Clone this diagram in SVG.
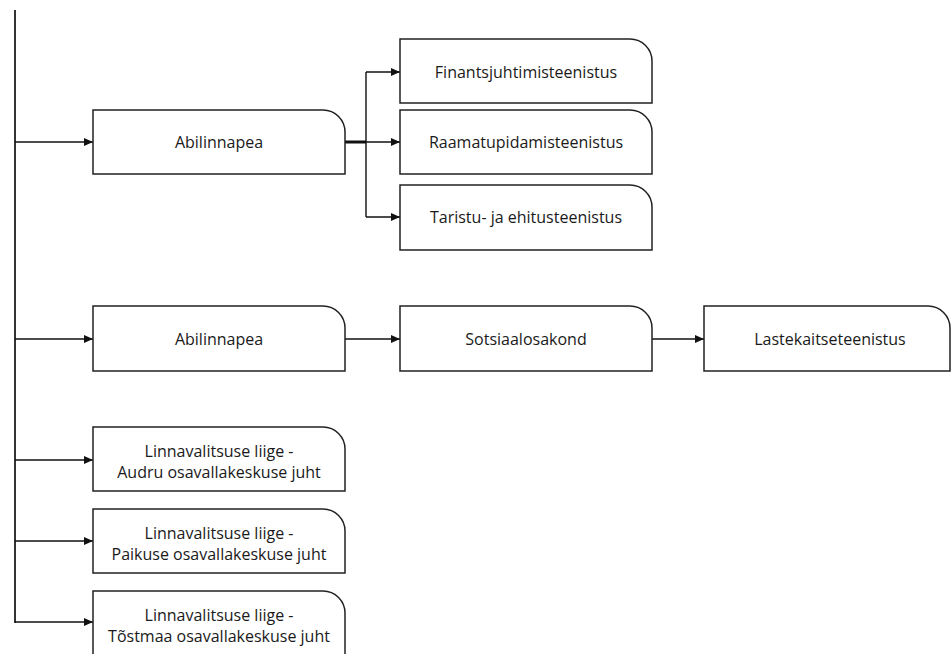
<svg xmlns="http://www.w3.org/2000/svg" width="951" height="654" viewBox="0 0 951 654">
<style>
.box{fill:#fff;stroke:#222;stroke-width:1.5}
.t{font-family:"Open Sans","Liberation Sans",sans-serif;font-size:16px;fill:#1a1a1a;text-anchor:middle;dominant-baseline:central}
.c{fill:none;stroke:#111;stroke-width:1.4}
</style>
<defs>
<marker id="a" markerWidth="10" markerHeight="8" refX="9" refY="4" orient="auto" markerUnits="userSpaceOnUse">
<path d="M0,0 L9,4 L0,8 Z" fill="#111"/>
</marker>
</defs>
<rect width="951" height="654" fill="#fff"/>
<g id="connectors">
<line x1="15" y1="10" x2="15" y2="623" stroke="#333" stroke-width="2"/>
<line class="c" x1="15" y1="142" x2="93" y2="142" marker-end="url(#a)"/>
<line class="c" x1="15" y1="339" x2="93" y2="339" marker-end="url(#a)"/>
<line class="c" x1="15" y1="460" x2="93" y2="460" marker-end="url(#a)"/>
<line class="c" x1="15" y1="541" x2="93" y2="541" marker-end="url(#a)"/>
<line class="c" x1="15" y1="622" x2="93" y2="622" marker-end="url(#a)"/>
<line x1="345" y1="142" x2="366" y2="142" stroke="#111" stroke-width="3"/>
<line class="c" x1="366" y1="72" x2="366" y2="217"/>
<line class="c" x1="366" y1="72" x2="400" y2="72" marker-end="url(#a)"/>
<line class="c" x1="366" y1="142" x2="400" y2="142" marker-end="url(#a)"/>
<line class="c" x1="366" y1="217" x2="400" y2="217" marker-end="url(#a)"/>
<line class="c" x1="345" y1="339" x2="400" y2="339" marker-end="url(#a)"/>
<line class="c" x1="652" y1="339" x2="704" y2="339" marker-end="url(#a)"/>
</g>
<g id="abilinnapea1"><path class="box" d="M93,110 H323 A22,22 0 0 1 345,132 V174 H93 Z"/><text class="t" x="219" y="142">Abilinnapea</text></g>
<g id="finants"><path class="box" d="M400,39 H630 A22,22 0 0 1 652,61 V103 H400 Z"/><text class="t" x="526" y="72">Finantsjuhtimisteenistus</text></g>
<g id="raamatupidamine"><path class="box" d="M400,110 H630 A22,22 0 0 1 652,132 V174 H400 Z"/><text class="t" x="526" y="142">Raamatupidamisteenistus</text></g>
<g id="taristu"><path class="box" d="M400,185 H630 A22,22 0 0 1 652,207 V250 H400 Z"/><text class="t" x="526" y="217">Taristu- ja ehitusteenistus</text></g>
<g id="abilinnapea2"><path class="box" d="M93,306 H323 A22,22 0 0 1 345,328 V371 H93 Z"/><text class="t" x="219" y="339">Abilinnapea</text></g>
<g id="sotsiaal"><path class="box" d="M400,306 H630 A22,22 0 0 1 652,328 V371 H400 Z"/><text class="t" x="526" y="339">Sotsiaalosakond</text></g>
<g id="lastekaitse"><path class="box" d="M704,306 H928 A22,22 0 0 1 950,328 V371 H704 Z"/><text class="t" x="830" y="339">Lastekaitseteenistus</text></g>
<g id="audru"><path class="box" d="M93,427 H323 A22,22 0 0 1 345,449 V491 H93 Z"/><text class="t" x="219" y="451">Linnavalitsuse liige -</text><text class="t" x="219" y="472">Audru osavallakeskuse juht</text></g>
<g id="paikuse"><path class="box" d="M93,509 H323 A22,22 0 0 1 345,531 V573 H93 Z"/><text class="t" x="219" y="533">Linnavalitsuse liige -</text><text class="t" x="219" y="554">Paikuse osavallakeskuse juht</text></g>
<g id="tostmaa"><path class="box" d="M93,591 H323 A22,22 0 0 1 345,613 V656 H93 Z"/><text class="t" x="219" y="615">Linnavalitsuse liige -</text><text class="t" x="219" y="636">Tõstmaa osavallakeskuse juht</text></g>
</svg>
